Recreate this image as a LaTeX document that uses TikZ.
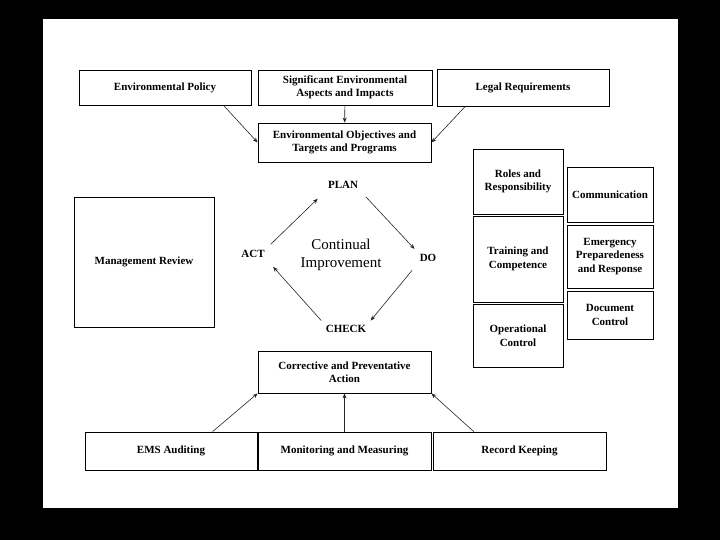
\documentclass[tikz,border=0pt]{standalone}
\usepackage{fontspec}
\setmainfont{Liberation Serif}
\usetikzlibrary{arrows.meta}

\begin{document}
\begin{tikzpicture}[x=1pt, y=-1pt,
		b/.style = {rectangle, draw, line width=0.8pt, align=center, inner sep=2pt, font=\bfseries\fontsize{11}{13.5}\selectfont},
		w/.style = {b, minimum width=173pt, minimum height=37pt},
		sl/.style = {b, minimum width=90pt},
		sr/.style = {b, minimum width=86pt},
		c/.style = {inner sep=3pt, font=\bfseries\fontsize{11}{13}\selectfont},
		r/.style = {-{Stealth[length=5pt, width=4pt]}, draw=black!85, line width=0.6pt},
		]
		
		%Frame
		\fill[black] (0, 0) rectangle (720, 540);
		\fill[white] (43, 19) rectangle (678, 508);
		
		%Nodes
		\node[w, minimum width=172pt, minimum height=35pt]	(pol)	at	(165, 87.5)	{Environmental Policy};
		\node[w, minimum width=174pt, minimum height=35pt]	(sig)	at	(345, 87.5)	{Significant Environmental\\Aspects and Impacts};
		\node[w, minimum width=172pt]	(leg)	at	(523, 88)	{Legal Requirements};
		\node[w, minimum height=39pt]	(obj)	at	(344.5, 142.5)	{Environmental Objectives and\\Targets and Programs};
		
		\node[b, minimum width=140pt, minimum height=130pt]	(man)	at	(144, 262)	{Management Review};
		
		\node[c]	(plan)	at	(343, 185)	{PLAN};
		\node[c]	(do)	at	(428, 258)	{DO};
		\node[c]	(check)	at	(346, 329)	{CHECK};
		\node[c]	(act)	at	(253, 254)	{ACT};
		\node[align=center, font=\fontsize{15}{18}\selectfont]	(ci)	at	(341, 255)	{Continual\\Improvement};
		
		\node[sl, minimum height=65pt]	(rol)	at	(518, 181.5)	{Roles and\\Responsibility};
		\node[sl, minimum height=86pt]	(tra)	at	(518, 259)	{Training and\\Competence};
		\node[sl, minimum height=63pt]	(ope)	at	(518, 335.5)	{Operational\\Control};
		\node[sr, minimum height=55pt]	(com)	at	(610, 194.5)	{Communication};
		\node[sr, minimum height=63pt]	(eme)	at	(610, 256.5)	{Emergency\\Preparedeness\\and Response};
		\node[sr, minimum height=48pt]	(doc)	at	(610, 315)	{Document\\Control};
		
		\node[w, minimum height=42pt]	(cor)	at	(344.5, 372)	{Corrective and Preventative\\Action};
		\node[w, minimum width=172pt, minimum height=38pt]	(ems)	at	(171, 451)	{EMS Auditing};
		\node[w, minimum height=38pt]	(mon)	at	(344.5, 451)	{Monitoring and Measuring};
		\node[w, minimum height=38pt]	(rec)	at	(519.5, 451)	{Record Keeping};
		
		%Lines
		\draw[r]	(pol.-17)	--	(obj.west);
		\draw[r]	(sig)	--	(obj);
		\draw[r]	(leg.198)	--	(obj.east);
		
		\draw[r, shorten <=4pt, shorten >=10pt]	(act.north east)	--	(plan.south west);
		\draw[r, shorten <=7pt, shorten >=3pt]	(plan.south east)	--	(do.north west);
		\draw[r, shorten <=7pt, shorten >=2pt]	(do.south west)	--	(check.north east);
		\draw[r, shorten <=2pt, shorten >=8pt]	(check.north west)	--	(act.south east);
		
		\draw[r]	(ems.25)	--	(cor.south west);
		\draw[r]	(mon)	--	(cor);
		\draw[r]	(rec.157)	--	(cor.south east);
		
\end{tikzpicture}
\end{document}
